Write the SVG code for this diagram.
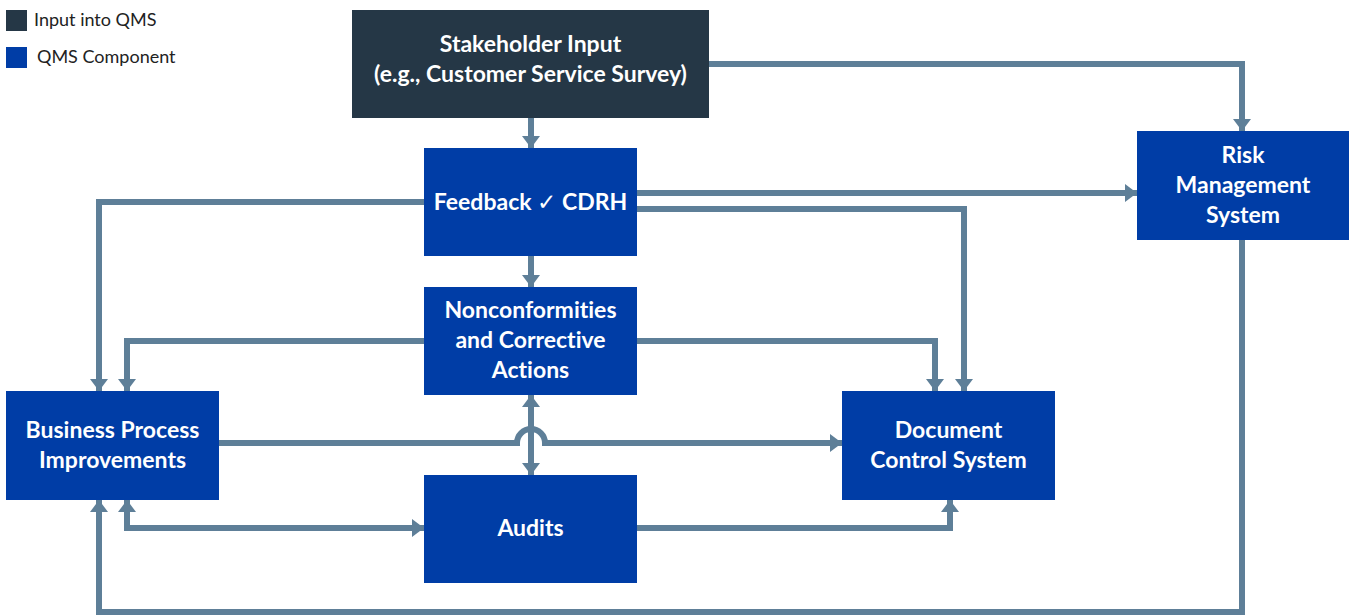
<svg xmlns="http://www.w3.org/2000/svg" width="1349" height="616" viewBox="0 0 1349 616">
  <style>
    .input { fill: #253746; }
    .comp { fill: #003da6; }
    .label { font-family: Lato, "Open Sans", "DejaVu Sans", sans-serif; font-weight: bold; font-size: 23px; fill: #ffffff; text-anchor: middle; font-variant-ligatures: none; }
    .legend { font-family: Lato, "Open Sans", "DejaVu Sans", sans-serif; font-size: 18px; fill: #222222; }
    .wire { fill: none; stroke: #5e7f98; stroke-width: 6; }
  </style>
  <defs>
    <marker id="arrow" markerUnits="userSpaceOnUse" viewBox="0 0 12 18" refX="12" refY="9" markerWidth="12" markerHeight="18" orient="auto-start-reverse">
      <path d="M0,0 L12,9 L0,18 Z" fill="#5e7f98"/>
    </marker>
  </defs>

  <rect width="1349" height="616" fill="#ffffff"/>

  <!-- legend -->
  <g id="legend">
    <rect x="6" y="10" width="21" height="21" class="input"/>
    <text x="34" y="26" class="legend">Input into QMS</text>
    <rect x="6" y="47" width="21" height="21" class="comp"/>
    <text x="37" y="63" class="legend">QMS Component</text>
  </g>

  <!-- connectors -->
  <g id="connectors">
    <path class="wire" d="M531,118 V148" marker-end="url(#arrow)"/>
    <path class="wire" d="M709,64 H1242 V131" marker-end="url(#arrow)"/>
    <path class="wire" d="M637,193 H1137" marker-end="url(#arrow)"/>
    <path class="wire" d="M637,209 H964 V391" marker-end="url(#arrow)"/>
    <path class="wire" d="M424,202 H99 V391" marker-end="url(#arrow)"/>
    <path class="wire" d="M531,256 V287" marker-end="url(#arrow)"/>
    <path class="wire" d="M424,341 H127 V391" marker-end="url(#arrow)"/>
    <path class="wire" d="M637,341 H935 V391" marker-end="url(#arrow)"/>
    <path class="wire" d="M219,443 H517 A14,14 0 0 1 545,443 H842" marker-end="url(#arrow)"/>
    <path class="wire" d="M531,395 V475" marker-start="url(#arrow)" marker-end="url(#arrow)"/>
    <path class="wire" d="M127,500 V528 H424" marker-start="url(#arrow)" marker-end="url(#arrow)"/>
    <path class="wire" d="M637,528 H950 V500" marker-end="url(#arrow)"/>
    <path class="wire" d="M1242,240 V612 H99 V500" marker-end="url(#arrow)"/>
  </g>

  <!-- nodes -->
  <g id="stakeholder-input">
    <rect x="352" y="10" width="357" height="108" class="input"/>
    <text x="530.5" y="52" class="label">Stakeholder Input</text>
    <text x="530.5" y="82" class="label">(e.g., Customer Service Survey)</text>
  </g>
  <g id="feedback">
    <rect x="424" y="148" width="213" height="108" class="comp"/>
    <text x="530.5" y="210" class="label">Feedback ✓ CDRH</text>
  </g>
  <g id="nonconformities">
    <rect x="424" y="287" width="213" height="108" class="comp"/>
    <text x="530.5" y="318" class="label">Nonconformities</text>
    <text x="530.5" y="348" class="label">and Corrective</text>
    <text x="530.5" y="378" class="label">Actions</text>
  </g>
  <g id="business-process">
    <rect x="6" y="391" width="213" height="109" class="comp"/>
    <text x="112.5" y="438" class="label">Business Process</text>
    <text x="112.5" y="468" class="label">Improvements</text>
  </g>
  <g id="audits">
    <rect x="424" y="475" width="213" height="108" class="comp"/>
    <text x="530.5" y="536" class="label">Audits</text>
  </g>
  <g id="document-control">
    <rect x="842" y="391" width="213" height="109" class="comp"/>
    <text x="948.5" y="438" class="label">Document</text>
    <text x="948.5" y="468" class="label">Control System</text>
  </g>
  <g id="risk-management">
    <rect x="1137" y="131" width="212" height="109" class="comp"/>
    <text x="1243" y="163" class="label">Risk</text>
    <text x="1243" y="193" class="label">Management</text>
    <text x="1243" y="223" class="label">System</text>
  </g>
</svg>
